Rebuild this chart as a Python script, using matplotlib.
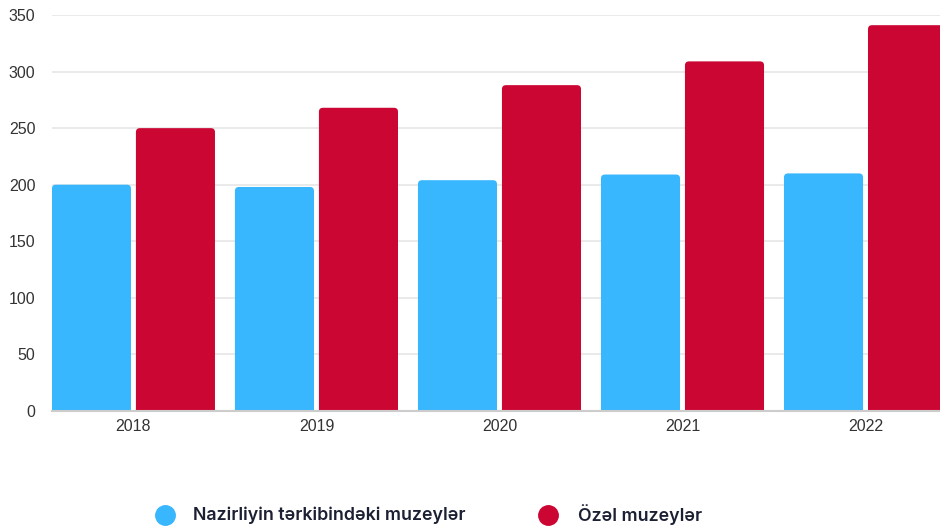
import matplotlib.pyplot as plt
from matplotlib.lines import Line2D
from matplotlib.patches import FancyBboxPatch
import numpy as np

years = ['2018', '2019', '2020', '2021', '2022']
nazirlik = [200, 198, 204, 209, 210]
ozel = [250, 268, 288, 309, 341]
yticks = [0, 50, 100, 150, 200, 250, 300, 350]

blue = '#38b6fe'
red = '#cc0633'

W, H = 940, 531
fig = plt.figure(figsize=(W / 100, H / 100), dpi=100)
ax_w, ax_h = 940 - 52, 411 - 15
ax = fig.add_axes([52 / W, 1 - 411 / H, ax_w / W, ax_h / H])

xlim = (-0.445, 4.407)
ylim = (0, 350)
ax.set_xlim(*xlim)
ax.set_ylim(*ylim)

# pixel size in data units, used for rounded bar tops
px_x = (xlim[1] - xlim[0]) / ax_w
px_y = (ylim[1] - ylim[0]) / ax_h

x = np.arange(len(years))
bw = 0.432
off = 0.2295
sink = 6  # bars start a bit below 0 so the lower corners are hidden


def rounded_bars(xs, vals, color):
    for xc, v in zip(xs, vals):
        p = FancyBboxPatch((xc - bw / 2, -sink), bw, v + sink,
                           boxstyle=f'round,pad=0,rounding_size={4 * px_x}',
                           mutation_aspect=px_y / px_x,
                           facecolor=color, edgecolor='none', zorder=3)
        ax.add_patch(p)


rounded_bars(x - off, nazirlik, blue)
rounded_bars(x + off, ozel, red)

ax.set_yticks(yticks)
ax.set_xticks(x)
ax.set_xticklabels(years)
ax.grid(axis='y', color='#e6e6e6', linewidth=1.2, zorder=0)
for s in ['top', 'right', 'left']:
    ax.spines[s].set_visible(False)
ax.spines['bottom'].set_color('#cccccc')
ax.spines['bottom'].set_linewidth(1.5)
ax.spines['bottom'].set_zorder(4)
ax.tick_params(axis='both', length=0, labelsize=11.5, labelcolor='#333333',
               pad=6)
ax.tick_params(axis='y', pad=12)
for lbl in ax.get_xticklabels() + ax.get_yticklabels():
    lbl.set_family(['Liberation Sans', 'DejaVu Sans'])

# legend drawn by hand at the bottom
ly = 1 - 515 / H
for cx, tx, col, label in [(165, 193, blue, 'Nazirliyin tərkibindəki muzeylər'),
                           (548, 578, red, 'Özəl muzeylər')]:
    fig.add_artist(Line2D([cx / W], [ly], marker='o', markersize=14,
                          color=col, linestyle='none'))
    fig.text(tx / W, ly, label, ha='left', va='center', fontsize=12.8,
             fontweight='semibold', color='#1c2033',
             family=['Inter', 'DejaVu Sans'])

fig.savefig('out.png', dpi=100)
